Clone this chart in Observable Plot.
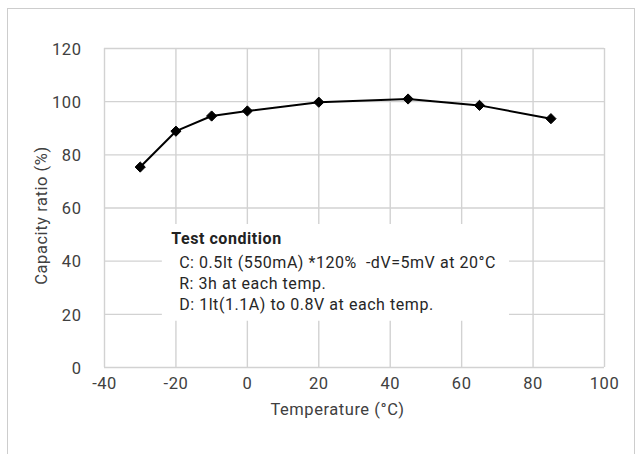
<!DOCTYPE html>
<html>
<head>
<meta charset="utf-8">
<script src="https://cdn.jsdelivr.net/npm/d3@7"></script>
<script src="https://cdn.jsdelivr.net/npm/@observablehq/plot@0.6"></script>
<style>
  html, body { margin: 0; padding: 0; background: #fff; }
  #wrap { position: relative; width: 635px; height: 454px; overflow: hidden; font-family: Roboto, sans-serif; }
  #border { position: absolute; left: 7px; top: 8px; width: 626px; height: 480px; border: 1px solid #cdcdcd; pointer-events: none; }
  #chart svg text { letter-spacing: 0.55px; }
</style>
</head>
<body>
<div id="wrap"><div id="chart"></div><div id="border"></div></div>
<script>
// Data
const temperatures = [-30, -20, -10, 0, 20, 45, 65, 85];
const capacityRatios = [75.4, 88.9, 94.6, 96.5, 99.8, 101, 98.6, 93.6];
const xTicks = [-40, -20, 0, 20, 40, 60, 80, 100];
const yTicks = [0, 20, 40, 60, 80, 100, 120];
const xTitle = "Temperature (°C)";
const yTitle = "Capacity ratio (%)";
const noteTitle = "Test condition";
const noteLines = [
  "C: 0.5lt (550mA) *120%  -dV=5mV at 20°C",
  "R: 3h at each temp.",
  "D: 1lt(1.1A) to 0.8V at each temp."
];

const points = temperatures.map((t, i) => ({t, r: capacityRatios[i]}));

const plot = Plot.plot({
  width: 635,
  height: 454,
  marginLeft: 104,
  marginRight: 31,
  marginTop: 48,
  marginBottom: 87,
  style: {fontFamily: "Roboto, sans-serif", fontSize: "16px", background: "transparent", color: "#404040"},
  x: {domain: [-40, 100], ticks: xTicks},
  y: {domain: [0, 120], ticks: yTicks},
  marks: [
    Plot.gridX(xTicks, {stroke: "#d2d2d2", strokeOpacity: 1, strokeWidth: 1.4}),
    Plot.gridY(yTicks, {stroke: "#d2d2d2", strokeOpacity: 1, strokeWidth: 1.4}),
    // white annotation box (annotation placement, in data units)
    Plot.rect([0], {x1: -23.8, x2: 73.4, y1: 17.4, y2: 53.8, fill: "white"}),
    Plot.text([noteTitle], {x: -21.3, y: 48.2, text: d => d, textAnchor: "start", lineAnchor: "middle", fontWeight: "bold", fill: "#222", fontSize: 16}),
    Plot.text([noteLines.join("\n")], {x: -19.1, y: 43.3, text: d => d, textAnchor: "start", lineAnchor: "top", lineHeight: 1.34, fill: "#262626", fontSize: 16}),
    Plot.axisX(xTicks, {tickSize: 0, tickPadding: 10, label: null, fill: "#404040", fontSize: 16.5, tickFormat: d => String(d)}),
    Plot.axisY(yTicks, {tickSize: 0, tickPadding: 23, label: null, fill: "#404040", fontSize: 16.5, dy: 1, tickFormat: d => String(d)}),
    Plot.line(points, {x: "t", y: "r", stroke: "black", strokeWidth: 2}),
    Plot.dot(points, {x: "t", y: "r", symbol: "diamond2", r: 4.6, fill: "black", stroke: "black", strokeWidth: 1}),
    Plot.text([xTitle], {frameAnchor: "bottom", text: d => d, textAnchor: "middle", lineAnchor: "middle", dx: -17, dy: 42, fill: "#404040", fontSize: 16.5}),
    Plot.text([yTitle], {frameAnchor: "left", text: d => d, textAnchor: "middle", lineAnchor: "middle", rotate: -90, dx: -63, dy: 7.5, fill: "#404040", fontSize: 16.5})
  ]
});
document.getElementById("chart").appendChild(plot);
</script>
</body>
</html>
